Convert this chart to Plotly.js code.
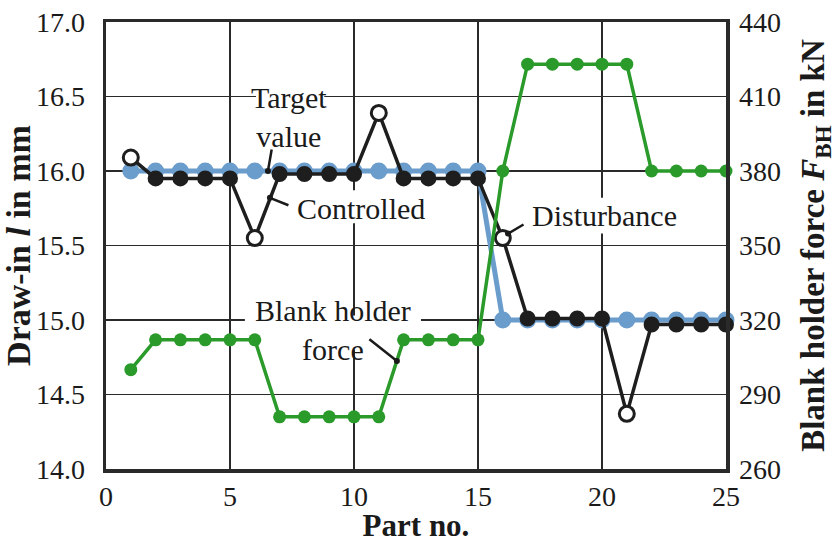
<!DOCTYPE html>
<html>
<head>
<meta charset="utf-8">
<script src="https://cdn.plot.ly/plotly-3.0.1.min.js"></script>
<style>html,body{margin:0;padding:0;background:#fff;}#chart{width:837px;height:543px;}</style>
</head>
<body>
<div id="chart"></div>
<script>
const parts = [1,2,3,4,5,6,7,8,9,10,11,12,13,14,15,16,17,18,19,20,21,22,23,24,25];
const targetDrawIn = [16,16,16,16,16,16,16,16,16,16,16,16,16,16,16,15,15,15,15,15,15,15,15,15,15];
const controlledDrawIn = [16.09,15.95,15.95,15.95,15.95,15.55,15.98,15.98,15.98,15.98,16.39,15.95,15.95,15.95,15.95,15.55,15.01,15.01,15.01,15.01,14.37,14.97,14.97,14.97,14.97];
const openPoints = [1,6,11,16,21];
const blankHolderForce = [300,312,312,312,312,312,281,281,281,281,281,312,312,312,312,380,423,423,423,423,423,380,380,380,380];
const xTicks = [0,5,10,15,20,25];
const yTicks = [14.0,14.5,15.0,15.5,16.0,16.5,17.0];
const y2Ticks = [260,290,320,350,380,410,440];

const FONT = 'Liberation Serif';
const AX = '#2a2a2a';
const black = '#1e1e1e';
const green = '#2a9a2a';
const blue = '#6a9ccc';

const ctrlColors = parts.map(p => openPoints.includes(p) ? '#ffffff' : black);
const ctrlSizes = parts.map(p => openPoints.includes(p) ? 15 : 13);

const traces = [
  {x: parts, y: blankHolderForce, yaxis: 'y2', mode: 'lines+markers', cliponaxis: false,
   line: {color: green, width: 3.5}, marker: {color: green, size: 13, opacity: 1}},
  {x: parts, y: targetDrawIn, mode: 'lines+markers', cliponaxis: false,
   line: {color: blue, width: 5}, marker: {color: blue, size: 17, opacity: 1}},
  {x: parts, y: controlledDrawIn, mode: 'lines+markers', cliponaxis: false,
   line: {color: black, width: 3.5}, marker: {color: ctrlColors, size: ctrlSizes, opacity: 1, line: {color: black, width: 3}}}
];

const annFont = {family: FONT, size: 30, color: '#1a1a1a'};
const leader = (x, y, ax, ay) => ({x, y, xref: 'x', yref: 'y', ax, ay, text: '', showarrow: true,
  arrowhead: 6, arrowsize: 0.6, arrowwidth: 2.5, arrowcolor: '#1a1a1a', standoff: 0, startstandoff: 0});
const label = (x, y, text, xanchor) => ({x, y, xref: 'x', yref: 'y', text, showarrow: false, font: annFont,
  xanchor, yanchor: 'middle'});
const mask = (x0, x1, y0, y1) => ({type: 'rect', xref: 'x', yref: 'y', x0, x1, y0, y1, layer: 'between',
  fillcolor: '#ffffff', line: {width: 0}});

const layout = {
  width: 837, height: 543,
  margin: {l: 106, r: 111, t: 22, b: 74},
  paper_bgcolor: '#fff', plot_bgcolor: '#fff',
  showlegend: false,
  font: {family: FONT, color: '#1a1a1a'},
  xaxis: {range: [0, 25], tickvals: xTicks, ticktext: xTicks.map(String),
    showgrid: true, gridcolor: AX, gridwidth: 1.5, zeroline: false,
    showline: true, linecolor: AX, linewidth: 3.5, mirror: true, ticks: '',
    tickfont: {family: FONT, size: 28}, ticklabelstandoff: 0,
    title: {text: '<b>Part no.</b>', font: {family: FONT, size: 31}, standoff: 4}},
  yaxis: {range: [14, 17], tickvals: yTicks, ticktext: yTicks.map(v => v.toFixed(1)),
    showgrid: true, gridcolor: AX, gridwidth: 1.5, zeroline: false,
    showline: true, linecolor: AX, linewidth: 3.5, ticks: '', ticklabelstandoff: 12,
    tickfont: {family: FONT, size: 28},
    title: {text: '<b>Draw-in <i>l</i> in mm</b>', font: {family: FONT, size: 34}, standoff: 0}},
  yaxis2: {range: [260, 440], tickvals: y2Ticks, ticktext: y2Ticks.map(String), overlaying: 'y', side: 'right',
    showgrid: false, zeroline: false, showline: true, linecolor: AX, linewidth: 3.5, ticks: '',
    ticklabelstandoff: 4,
    tickfont: {family: FONT, size: 28},
    title: {text: '<b>Blank holder force <i>F</i><sub>BH</sub> in kN</b>', font: {family: FONT, size: 33}, standoff: 22}},
  shapes: [
    mask(6.05, 8.8, 16.12, 16.62),
    mask(7.45, 13.2, 15.65, 15.87),
    mask(16.9, 24.5, 15.58, 15.82),
    mask(5.6, 12.7, 14.8, 15.03)
  ],
  annotations: [
    label(7.38, 16.36, 'Target<br>value', 'center'),
    leader(6.53, 16.0, 4, -23),
    label(7.62, 15.75, 'Controlled', 'left'),
    leader(6.61, 15.82, 20, 8),
    label(17.1, 15.70, 'Disturbance', 'left'),
    leader(16.21, 15.58, 17, -10),
    label(9.15, 14.93, 'Blank holder<br>force', 'center'),
    leader(11.73, 14.725, -29, -23)
  ]
};

Plotly.newPlot('chart', traces, layout, {displayModeBar: false, staticPlot: true});
</script>
</body>
</html>
